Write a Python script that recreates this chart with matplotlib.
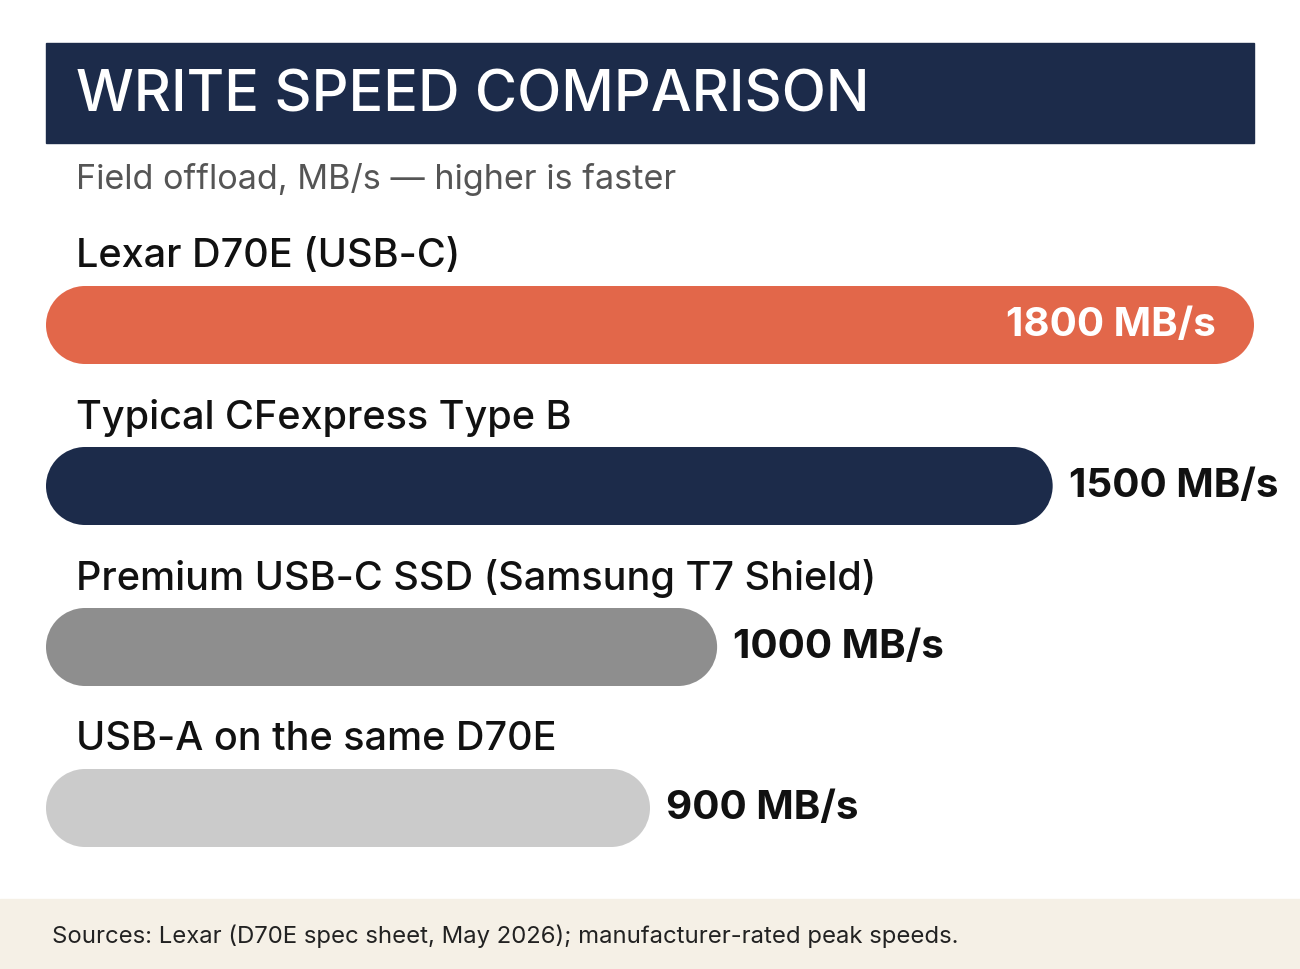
import matplotlib
matplotlib.use("Agg")
import matplotlib.pyplot as plt
from matplotlib.patches import Rectangle, Circle

plt.rcParams['font.family'] = ['Inter', 'DejaVu Sans']

title = "WRITE SPEED COMPARISON"
subtitle = "Field offload, MB/s — higher is faster"
categories = ["Lexar D70E (USB-C)", "Typical CFexpress Type B",
              "Premium USB-C SSD (Samsung T7 Shield)", "USB-A on the same D70E"]
values = [1800, 1500, 1000, 900]
colors = ["#e2674a", "#1c2b4a", "#8e8e8e", "#cbcbcb"]
footer = "Sources: Lexar (D70E spec sheet, May 2026); manufacturer-rated peak speeds."

W, H = 1300, 970
fig = plt.figure(figsize=(13, 9.7), dpi=100)
ax = fig.add_axes([0, 0, 1, 1])
ax.set_xlim(0, W); ax.set_ylim(H, 0); ax.axis('off')
ax.set_aspect('equal')

ax.add_patch(Rectangle((46, 44), 1208, 100, color="#1c2b4a"))
ax.text(76, 96, title, color="white", fontsize=41.5, va="center", ha="left", fontweight=500)
ax.text(76, 180, subtitle, color="#555555", fontsize=24.6, va="center", ha="left")

x0, maxw, bh = 46, 1208, 78
r = bh / 2
scale = maxw / max(values)
for i, (c, v, col) in enumerate(zip(categories, values, colors)):
    yl = 257 + i * 161
    yc = 326 + i * 161
    ax.text(76, yl, c, fontsize=28.5, va="center", ha="left", color="#111111", fontweight=500)
    w = v * scale
    ax.add_patch(Rectangle((x0 + r, yc - r), w - 2 * r, bh, color=col, lw=0))
    ax.add_patch(Circle((x0 + r, yc), r, color=col, lw=0))
    ax.add_patch(Circle((x0 + w - r, yc), r, color=col, lw=0))
    lab = f"{v} MB/s"
    if i == 0:
        ax.text(x0 + w - 38, yc, lab, fontsize=29, fontweight="bold", color="white",
                va="center", ha="right")
    else:
        ax.text(x0 + w + 16, yc, lab, fontsize=29, fontweight="bold", color="#111111",
                va="center", ha="left")

ax.add_patch(Rectangle((0, 900), W, 70, color="#f5f0e6"))
ax.text(52, 936, footer, fontsize=17.2, va="center", ha="left", color="#222222")

fig.savefig("out.png", dpi=100)
